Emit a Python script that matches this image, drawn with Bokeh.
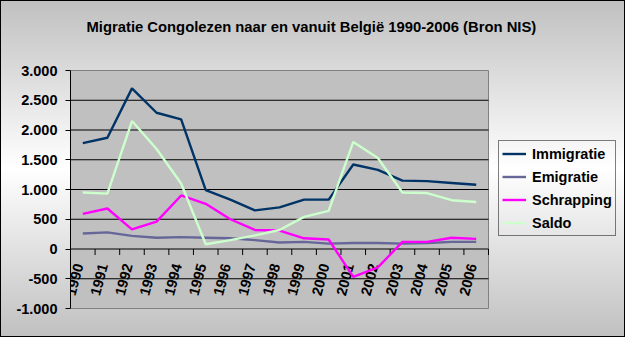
import math
from bokeh.plotting import figure
from bokeh.models import Range1d, FixedTicker, Legend, LegendItem, Title
from bokeh.core.properties import value
from bokeh.embed import file_html
from bokeh.resources import INLINE

title_text = "Migratie Congolezen naar en vanuit België 1990-2006 (Bron NIS)"
years = ["1990", "1991", "1992", "1993", "1994", "1995", "1996", "1997", "1998",
         "1999", "2000", "2001", "2002", "2003", "2004", "2005", "2006"]
immigratie = [1780, 1870, 2700, 2290, 2180, 990, 830, 650, 700, 830, 830, 1420, 1330, 1150, 1140, 1110, 1080]
emigratie = [260, 280, 220, 190, 200, 190, 180, 150, 110, 120, 90, 100, 100, 90, 100, 120, 120]
schrapping = [590, 680, 330, 460, 900, 760, 500, 320, 310, 180, 160, -470, -310, 120, 120, 190, 170]
saldo = [950, 930, 2150, 1680, 1100, 80, 150, 230, 320, 540, 640, 1800, 1530, 950, 940, 820, 790]
series_names = ["Immigratie", "Emigratie", "Schrapping", "Saldo"]
series_colors = ["#003366", "#666699", "#ff00ff", "#ccffcc"]
y_ticks = [-1000, -500, 0, 500, 1000, 1500, 2000, 2500, 3000]
y_tick_labels = ["-1.000", "-500", "0", "500", "1.000", "1.500", "2.000", "2.500", "3.000"]

FONT = "Liberation Sans"
FS = "14.5px"

n = len(years)
xs = [i + 0.5 for i in range(n)]
y_lo, y_hi = y_ticks[0], y_ticks[-1]

# layout: plot area 418 px wide for the categories, frame extends to the right edge
# so the legend (inside the frame) is not clipped
px_per_cat = 418 / n
frame_w = 625 - 70
px_per_unit = 238 / (y_hi - y_lo)
pad = 10 / px_per_unit

p = figure(width=625, height=337, output_backend="svg", toolbar_location=None,
           x_range=Range1d(0, frame_w / px_per_cat), y_range=Range1d(y_lo - pad, y_hi + pad),
           x_axis_type=None, min_border_left=70, min_border_right=0,
           min_border_top=60, min_border_bottom=19)
p.border_fill_color = None
p.background_fill_color = None
p.outline_line_color = None
p.styles = {"background": "linear-gradient(to bottom, #c0c0c0 0%, #ffffff 50%, #c0c0c0 100%)",
            "outline": "1px solid black", "outline-offset": "-1px"}

# spacer (closest to the frame) and the real title above it
p.add_layout(Title(text=" ", text_font_size="1px", standoff=21), "above")
p.title.text = title_text
p.title.text_font = FONT
p.title.text_font_size = "14.8px"
p.title.text_font_style = "bold"
p.title.text_color = "black"
p.title.align = "left"
p.title.offset = 16
p.title.standoff = 4

# y axis
p.yaxis.ticker = FixedTicker(ticks=y_ticks)
p.yaxis.bounds = (y_lo, y_hi)
p.yaxis.major_label_overrides = {t: l for t, l in zip(y_ticks, y_tick_labels)}
p.yaxis.major_label_text_font = FONT
p.yaxis.major_label_text_font_size = FS
p.yaxis.major_label_text_font_style = "bold"
p.yaxis.major_label_text_color = "black"
p.yaxis.major_tick_in = 0
p.yaxis.major_tick_out = 5
p.yaxis.minor_tick_line_color = None
p.yaxis.axis_line_color = "black"
p.yaxis.major_tick_line_color = "black"
p.yaxis.major_label_standoff = 8
p.ygrid.grid_line_color = None

# plot area
p.quad(left=[0], right=[n], bottom=[y_lo], top=[y_hi], fill_color="#c0c0c0",
       line_color="#808080", line_width=1)
grid_vals = [t for t in y_ticks if y_lo < t < y_hi]
p.segment(x0=[0] * len(grid_vals), x1=[n] * len(grid_vals), y0=grid_vals, y1=grid_vals,
          line_color="black", line_width=1)

# category axis drawn at y = 0 (Excel style crossing)
p.segment(x0=list(range(n + 1)), x1=list(range(n + 1)), y0=[0] * (n + 1),
          y1=[-6 / px_per_unit] * (n + 1), line_color="black", line_width=1)
p.text(x=xs, y=[-15 / px_per_unit] * n, text=years, angle=math.radians(75),
       text_align="right", text_baseline="middle", x_offset=-4,
       text_font=value(FONT), text_font_size=FS, text_font_style="bold", text_color="black")

items = []
for name, vals, col in zip(series_names, [immigratie, emigratie, schrapping, saldo], series_colors):
    r = p.line(xs, vals, line_color=col, line_width=2.4)
    items.append(LegendItem(label=name, renderers=[r]))

legend = Legend(items=items, location=(428, 82))
legend.label_text_font = FONT
legend.label_text_font_size = FS
legend.label_text_font_style = "bold"
legend.label_text_color = "black"
legend.border_line_color = "black"
legend.border_line_width = 1
legend.background_fill_alpha = 0
legend.padding = 3
legend.spacing = 4
legend.label_height = 19
legend.glyph_height = 19
legend.glyph_width = 24
legend.label_standoff = 6
legend.margin = 0
p.add_layout(legend)

open("out.html", "w").write(file_html(p, INLINE))
